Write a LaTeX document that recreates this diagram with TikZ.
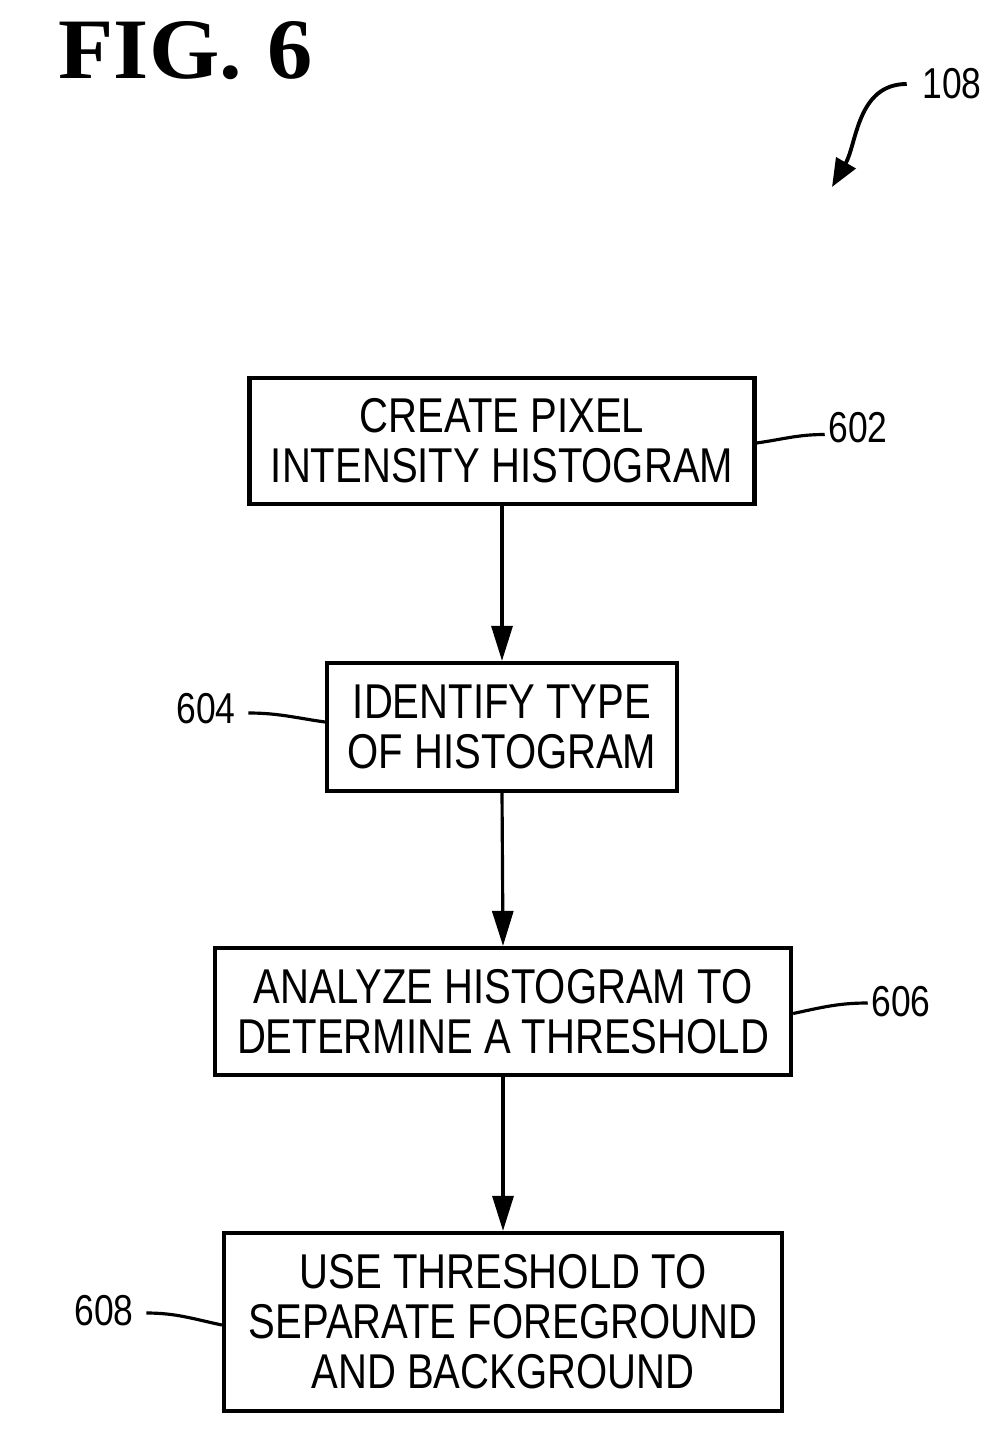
\documentclass[tikz,border=0pt]{standalone}
\usepackage{fontspec}
\usepackage{tikz}
\usetikzlibrary{arrows.meta,positioning}
\setmainfont{Liberation Serif}
\newfontfamily\boxfont[FakeStretch=0.82]{Liberation Sans}
\newfontfamily\titlefont[FakeStretch=1.05]{Liberation Serif}

\begin{document}
\begin{tikzpicture}[
        box/.style={rectangle, draw=black, line width=1.2pt, inner sep=0pt, align=center,
            font={\boxfont\fontsize{13.9pt}{14.2pt}\selectfont}},
        arrow/.style={-{Triangle[length=0.35cm, width=0.21cm]}, line width=0.9pt},
        leader/.style={line width=0.9pt},
        refnum/.style={inner sep=0pt, font={\boxfont\fontsize{12.3pt}{14pt}\selectfont}}
    ]
    \useasboundingbox (0,0) rectangle (9.99,-14.33);

    % Title
    \node[anchor=base west, inner sep=0pt, font={\titlefont\fontsize{24.5pt}{28pt}\selectfont\bfseries}] (title) at (0.58,-0.79) {FIG.\hspace{0.3em}6};

    % Overall reference numeral
    \node[refnum] (l108) at (9.52,-0.84) {108};
    \coordinate (tip108) at (8.32,-1.87);
    \draw[line width=1.1pt, -{Triangle[length=0.28cm, width=0.22cm]}] ([xshift=-0.15cm]l108.west) to[out=180, in=60] (tip108);

    % Steps
    \node[box, minimum width=5.05cm, minimum height=1.26cm] (b602) at (5.02,-4.41) {CREATE PIXEL\\INTENSITY HISTOGRAM};
    \node[box, minimum width=3.50cm, minimum height=1.28cm] (b604) at (5.02,-7.27) {IDENTIFY TYPE\\OF HISTOGRAM};
    \node[box, minimum width=5.76cm, minimum height=1.27cm] (b606) at (5.03,-10.115) {ANALYZE HISTOGRAM TO\\DETERMINE A THRESHOLD};
    \node[box, minimum width=5.58cm, minimum height=1.78cm] (b608) at (5.03,-13.22) {USE THRESHOLD TO\\SEPARATE FOREGROUND\\AND BACKGROUND};

    % Flow arrows
    \draw[arrow] (b602.south) -- (b604.north);
    \draw[arrow] (b604.south) -- (b606.north);
    \draw[arrow] (b606.south) -- (b608.north);

    % Reference numerals of the steps
    \node[refnum] (l602) at (8.58,-4.275) {602};
    \node[refnum] (l604) at (2.06,-7.09) {604};
    \node[refnum] (l606) at (9.01,-10.02) {606};
    \node[refnum] (l608) at (1.04,-13.11) {608};

    % Leader lines
    \draw[leader] ([yshift=-0.02cm]b602.east) to[out=8, in=180] ([xshift=-0.03cm, yshift=-0.07cm]l602.west);
    \draw[leader] ([xshift=0.12cm, yshift=-0.04cm]l604.east) to[out=0, in=172] ([yshift=0.05cm]b604.west);
    \draw[leader] ([yshift=-0.02cm]b606.east) to[out=12, in=180] ([xshift=-0.03cm, yshift=-0.01cm]l606.west);
    \draw[leader] ([xshift=0.12cm, yshift=-0.02cm]l608.east) to[out=0, in=168] ([yshift=-0.03cm]b608.west);

\end{tikzpicture}
\end{document}
